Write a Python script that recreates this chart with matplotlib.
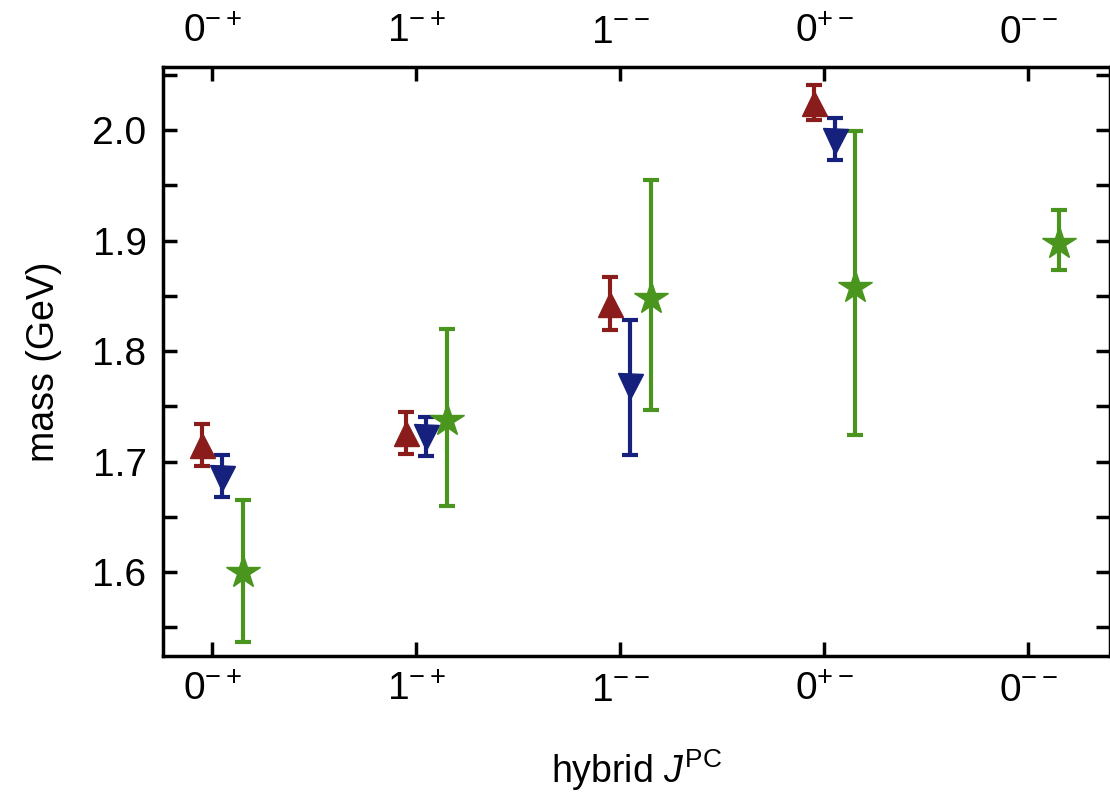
import numpy as np
import matplotlib
matplotlib.use("Agg")
import matplotlib.pyplot as plt
from matplotlib.ticker import MultipleLocator

plt.rcParams['font.family'] = ['Liberation Sans', 'DejaVu Sans']
plt.rcParams['mathtext.fontset'] = 'custom'
plt.rcParams['mathtext.rm'] = 'Liberation Sans'
plt.rcParams['mathtext.it'] = 'Liberation Sans:italic'

# quantum numbers
labels = [r'$0^{-+}$', r'$1^{-+}$', r'$1^{--}$', r'$0^{+-}$', r'$0^{--}$']

# red (up triangles)
red_x = [0, 1, 2, 3]
red_m = [1.715, 1.726, 1.843, 2.025]
red_e = [0.019, 0.019, 0.024, 0.016]

# blue (down triangles)
blue_x = [0, 1, 2, 3]
blue_m = [1.685, 1.722, 1.768, 1.990]
blue_lo = [0.017, 0.017, 0.062, 0.017]
blue_hi = [0.021, 0.018, 0.060, 0.021]

# green (stars)
green_x = [0, 1, 2, 3, 4]
green_m = [1.600, 1.738, 1.848, 1.858, 1.898]
green_lo = [0.063, 0.078, 0.101, 0.134, 0.025]
green_hi = [0.065, 0.082, 0.107, 0.141, 0.030]

c_red = '#8a1c1c'
c_blue = '#16217d'
c_green = '#4a951e'

fig = plt.figure(figsize=(11.1, 8), dpi=100)
ax = fig.add_axes([0.147, 0.18, 0.853, 0.736])

ax.errorbar(np.array(red_x) - 0.05, red_m, yerr=red_e, fmt='^', color=c_red,
            ms=18, elinewidth=3, capsize=5.5, capthick=3)
ax.errorbar(np.array(blue_x) + 0.05, blue_m, yerr=[blue_lo, blue_hi], fmt='v',
            color=c_blue, ms=18, elinewidth=3, capsize=5.5, capthick=3)
ax.errorbar(np.array(green_x) + 0.15, green_m, yerr=[green_lo, green_hi], fmt='*',
            color=c_green, ms=25, elinewidth=3, capsize=5.5, capthick=3)

ax.set_xlim(-0.24, 4.4)
ax.set_ylim(1.524, 2.057)
ax.set_xticks(range(5))
ax.set_xticklabels(labels)
ax.yaxis.set_major_locator(MultipleLocator(0.1))
ax.yaxis.set_minor_locator(MultipleLocator(0.05))
ax.yaxis.set_major_formatter(matplotlib.ticker.FormatStrFormatter('%.1f'))

ax.tick_params(axis='both', which='both', direction='in', width=2.5, length=10,
               labelsize=28, top=True, right=True, labeltop=True, pad=12)
ax.tick_params(axis='y', which='both', labelright=False)
for s in ax.spines.values():
    s.set_linewidth(2.5)

ax.set_ylabel('mass (GeV)', fontsize=27, labelpad=22)
ax.set_xlabel(r'hybrid $\mathit{J}^{\mathrm{PC}}$', fontsize=27, labelpad=28)

fig.savefig('out.png', dpi=100)
